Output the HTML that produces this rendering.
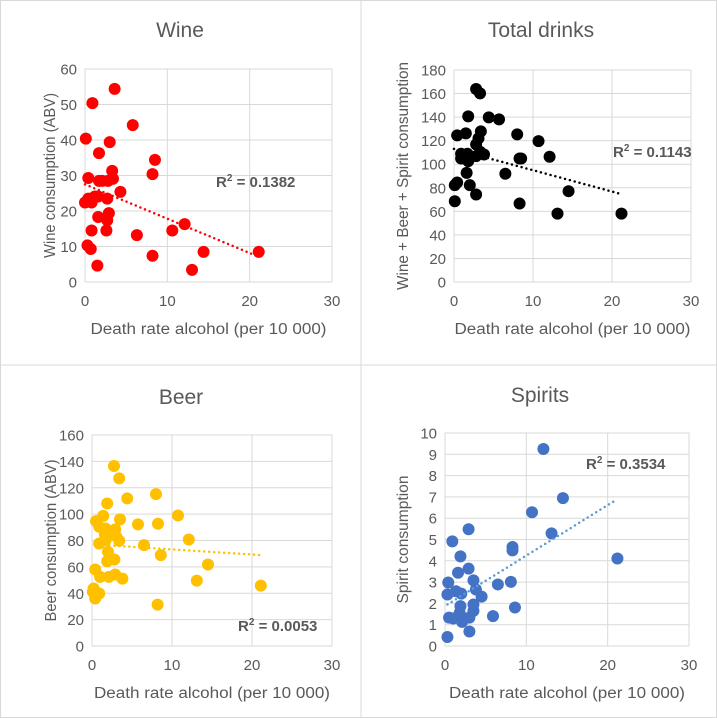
<!DOCTYPE html>
<html><head><meta charset="utf-8"><style>
html,body{margin:0;padding:0;background:#fff;}
svg{display:block;font-family:"Liberation Sans",sans-serif;}
</style></head><body>
<svg id="c" width="717" height="718" viewBox="0 0 717 718" xmlns="http://www.w3.org/2000/svg">
<rect x="0.5" y="0.5" width="716" height="717" fill="#fff" stroke="#d9d9d9"/>
<line x1="361" y1="0" x2="361" y2="718" stroke="#d9d9d9"/>
<line x1="0" y1="365" x2="717" y2="365" stroke="#d9d9d9"/>
</svg>
<script>
// Wine
const wineX=[0.1,0.9,3.6,5.8,3.0,1.7,8.5,8.2,0.4,3.3,1.7,2.1,2.8,3.4,4.3,0.4,0,0.8,1.2,1.6,2.7,2.9,2.7,1.6,0.8,2.6,6.3,10.6,12.1,0.3,0.7,1.5,8.2,14.4,13.0,21.1];
const wineY=[40.4,50.4,54.4,44.2,39.4,36.3,34.4,30.4,29.3,31.3,28.5,28.5,28.5,29.1,25.4,23.5,22.4,22.4,24.1,24.1,23.5,19.4,17.4,18.3,14.5,14.5,13.2,14.5,16.3,10.3,9.3,4.6,7.4,8.5,3.4,8.5];
const wineTrend=[[0,27.5],[21,7.2]];
// Total drinks
const totX=[2.8,3.3,1.8,4.4,5.7,8.0,0.4,1.5,3.4,3.1,2.8,10.7,12.1,0.9,1.7,0.9,1.8,2.8,3.3,3.8,8.3,8.5,6.5,1.6,0.4,0.1,2.0,2.8,0.1,8.3,14.5,13.1,21.2];
const totY=[163.9,160.2,140.6,139.8,138.1,125.3,124.5,126.2,127.9,121.9,116.8,119.6,106.3,108.9,108.9,104.9,102.6,106.9,110.6,108.3,104.9,104.9,91.9,92.7,84.5,82.2,82.2,74.3,68.6,66.6,77.1,58.1,58.1];
const totTrend=[[0,113],[21,75]];
// Beer
const beerX=[2.75,3.4,4.4,8.0,1.9,1.4,0.5,3.5,5.75,8.25,10.75,12.1,0.9,1.7,2.9,1.6,3.0,3.4,1.7,0.9,6.5,2.0,8.6,1.9,2.8,14.5,0.4,1.0,2.1,2.9,3.8,13.1,21.1,0.2,0.1,0.9,0.4,8.2];
const beerY=[136.5,127.1,111.9,115.2,108.1,98.7,94.7,96,92.2,92.7,99,80.8,90.4,89.1,88.4,84.6,83.3,79.8,80.3,77.7,76.5,71.4,68.9,64.3,65.6,61.8,58.0,52.4,52.4,54.2,51.1,49.6,45.8,43.6,41,39.8,36,31.4];
const beerTrend=[[0.3,77],[21,69]];
// Spirits
const spX=[12.1,14.5,10.7,13.1,2.9,0.9,8.3,8.3,1.9,21.2,2.9,1.6,0.4,3.5,8.1,6.5,1.35,2.0,0.3,3.8,4.5,3.5,1.9,8.6,3.5,1.8,0.5,1.0,3.0,5.9,2.1,3.0,0.3];
const spY=[9.25,6.94,6.28,5.29,5.48,4.91,4.65,4.49,4.21,4.11,3.63,3.44,2.98,3.08,3.01,2.89,2.57,2.46,2.42,2.65,2.32,1.95,1.87,1.81,1.65,1.55,1.33,1.29,1.33,1.40,1.13,0.68,0.42];
const spTrend=[[0.3,1.95],[21,6.85]];
const xTicks=[0,10,20,30];

const NS="http://www.w3.org/2000/svg";
const svg=document.getElementById('c');
function mk(tag,attrs,parent,text){const e=document.createElementNS(NS,tag);for(const k in attrs)e.setAttribute(k,attrs[k]);if(text!==undefined)e.textContent=text;(parent||svg).appendChild(e);return e;}

function chart(cfg){
  const g=mk('g',{});
  
  
  const sx=v=>cfg.x0+(cfg.x30-cfg.x0)*v/30;
  const sy=v=>cfg.yb-(cfg.yb-cfg.yt)*v/cfg.ymax;
  for(let v=0;v<=cfg.ymax+1e-9;v+=cfg.ystep){
    const y=sy(v);
    const l=mk('line',{x1:cfg.x0,x2:cfg.x30,y1:y,y2:y,stroke:'#d9d9d9','stroke-width':1},g);
    
    
    const t=mk('text',{x:cfg.x0-8,y:y+5.5,'text-anchor':'end','font-size':15,fill:'#595959'},g,String(Math.round(v)));
    
    
  }
  xTicks.forEach(v=>{
    const x=sx(v);
    const l=mk('line',{x1:x,x2:x,y1:cfg.yt,y2:cfg.yb,stroke:'#d9d9d9','stroke-width':1},g);
    
    
    const t=mk('text',{x:x,y:cfg.yb+24,'text-anchor':'middle','font-size':15,fill:'#595959'},g,String(v));
    
    
  });
  const tt=mk('text',{x:cfg.tx,y:cfg.ty,'text-anchor':'middle','font-size':21,fill:'#595959'},g,cfg.title);
  
  
  const xt=mk('text',{x:(cfg.x0+cfg.x30)/2,y:cfg.yb+52,'text-anchor':'middle','font-size':15.5,fill:'#595959',textLength:236,lengthAdjust:'spacingAndGlyphs'},g,'Death rate alcohol (per 10 000)');
  
  
  const yt=mk('text',{x:0,y:0,'text-anchor':'middle','font-size':15.5,fill:'#595959',textLength:cfg.ylen,lengthAdjust:'spacingAndGlyphs',transform:`translate(${cfg.ylx},${(cfg.yt+cfg.yb)/2}) rotate(-90)`},g,cfg.ylabel);
  
  
  cfg.xs.forEach((xv,i)=>{
    const c=mk('circle',{cx:sx(xv),cy:sy(cfg.ys[i]),r:6,fill:cfg.color},g);
    
    
  });
  const tr=mk('line',{x1:sx(cfg.trend[0][0]),y1:sy(cfg.trend[0][1]),x2:sx(cfg.trend[1][0]),y2:sy(cfg.trend[1][1]),stroke:cfg.tcolor,'stroke-width':2.5,'stroke-dasharray':'0 5','stroke-linecap':'round'},g);
  
  
  const r=mk('text',{x:cfg.rx,y:cfg.ry,'font-size':15,'font-weight':'bold',fill:'#595959'},g);
  
  
  r.appendChild(document.createTextNode('R'));
  mk('tspan',{'font-size':10,dy:-6},r,'2');
  mk('tspan',{dy:6},r,' = '+cfg.r2);
}
chart({key:'wine',title:'Wine',tx:180,ty:37,x0:85,x30:332,yt:69,yb:282,ymax:60,ystep:10,ylabel:'Wine consumption (ABV)',ylen:165,ylx:55,xs:wineX,ys:wineY,color:'#ff0000',tcolor:'#ff0000',trend:wineTrend,rx:216,ry:187,r2:'0.1382'});
chart({key:'total',title:'Total drinks',tx:541,ty:37,x0:454,x30:691,yt:70,yb:282,ymax:180,ystep:20,ylabel:'Wine + Beer + Spirit consumption',ylen:228,ylx:408,xs:totX,ys:totY,color:'#000000',tcolor:'#000000',trend:totTrend,rx:613,ry:157,r2:'0.1143'});
chart({key:'beer',title:'Beer',tx:181,ty:404,x0:92,x30:332,yt:435,yb:646,ymax:160,ystep:20,ylabel:'Beer consumption (ABV)',ylen:162,ylx:56,xs:beerX,ys:beerY,color:'#ffc000',tcolor:'#ffc000',trend:beerTrend,rx:238,ry:631,r2:'0.0053'});
chart({key:'spirits',title:'Spirits',tx:540,ty:402,x0:445,x30:689,yt:433,yb:646,ymax:10,ystep:1,ylabel:'Spirit consumption',ylen:128,ylx:408,xs:spX,ys:spY,color:'#4472c4',tcolor:'#5b9bd5',trend:spTrend,rx:586,ry:469,r2:'0.3534'});
</script>
</body></html>
